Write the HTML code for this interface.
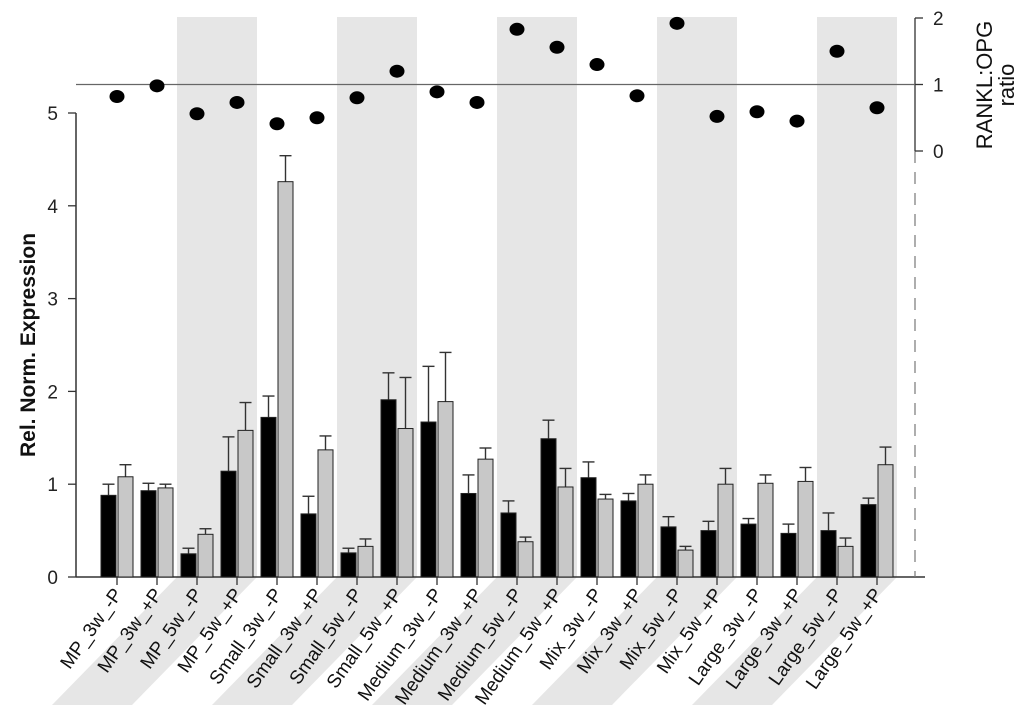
<!DOCTYPE html>
<html><head><meta charset="utf-8"><style>body{margin:0;background:#fff}svg{display:block;font-family:"Liberation Sans",sans-serif}</style></head>
<body>
<svg id="chart" width="1024" height="718" viewBox="0 0 1024 718" xmlns="http://www.w3.org/2000/svg">
<g id="bands"></g><g id="axes"></g><g id="bars"></g><g id="dots"></g><g id="labels"></g>
</svg>
<script>
const categories=["MP_3w_-P","MP_3w_+P","MP_5w_-P","MP_5w_+P","Small_3w_-P","Small_3w_+P","Small_5w_-P","Small_5w_+P","Medium_3w_-P","Medium_3w_+P","Medium_5w_-P","Medium_5w_+P","Mix_3w_-P","Mix_3w_+P","Mix_5w_-P","Mix_5w_+P","Large_3w_-P","Large_3w_+P","Large_5w_-P","Large_5w_+P"];
const rankl=[0.88,0.93,0.25,1.14,1.72,0.68,0.26,1.91,1.67,0.90,0.69,1.49,1.07,0.82,0.54,0.50,0.57,0.47,0.50,0.78];
const ranklErr=[0.12,0.08,0.06,0.37,0.23,0.19,0.05,0.29,0.60,0.20,0.13,0.20,0.17,0.08,0.11,0.10,0.06,0.10,0.19,0.07];
const opg=[1.08,0.96,0.46,1.58,4.26,1.37,0.33,1.60,1.89,1.27,0.38,0.97,0.84,1.00,0.29,1.00,1.01,1.03,0.33,1.21];
const opgErr=[0.13,0.04,0.06,0.30,0.28,0.15,0.08,0.55,0.53,0.12,0.05,0.20,0.05,0.10,0.04,0.17,0.09,0.15,0.09,0.19];
const ratio=[0.82,0.98,0.56,0.73,0.41,0.50,0.80,1.20,0.89,0.73,1.83,1.56,1.30,0.83,1.92,0.52,0.59,0.45,1.50,0.65];
const leftTicks=[0,1,2,3,4,5];
const rightTicks=[0,1,2];
const NS="http://www.w3.org/2000/svg";
const X=i=>117+40*i;
const Y=v=>577-v*92.8;
const R=v=>151-v*66.5;
function mk(parent,tag,attrs){const e=document.createElementNS(NS,tag);for(const k in attrs)e.setAttribute(k,attrs[k]);document.getElementById(parent).appendChild(e);return e;}
for(let b=0;b<5;b++){
  const x0=X(2+4*b)-20;
  let e=mk('bands','rect',{x:x0,y:17,width:80,height:560,fill:'#e6e6e6'});
  
  
  e=mk('bands','polygon',{points:`${x0},577 ${x0+80},577 ${x0-45},705 ${x0-125},705`,fill:'#e6e6e6'});
  
  
}
let a;
a=mk('axes','line',{x1:76,y1:Y(0),x2:76,y2:Y(5),stroke:'#333','stroke-width':1.5});

a=mk('axes','line',{x1:76,y1:577,x2:925,y2:577,stroke:'#333','stroke-width':1.5});

leftTicks.forEach(t=>{
  let e=mk('axes','line',{x1:68,y1:Y(t),x2:76,y2:Y(t),stroke:'#333','stroke-width':1.3});
  
  e=mk('axes','text',{x:58,y:Y(t)+7,'text-anchor':'end','font-size':19,fill:'#222'});e.textContent=t;
  
});
a=mk('axes','line',{x1:915,y1:R(0),x2:915,y2:R(2),stroke:'#333','stroke-width':1.3});

a=mk('axes','line',{x1:915,y1:R(0),x2:915,y2:577,stroke:'#777','stroke-width':1.2,'stroke-dasharray':'12,9'});

rightTicks.forEach(t=>{
  let e=mk('axes','line',{x1:915,y1:R(t),x2:923,y2:R(t),stroke:'#333','stroke-width':1.3});
  
  e=mk('axes','text',{x:933,y:R(t)+7,'font-size':19,fill:'#222'});e.textContent=t;
  
});
a=mk('axes','line',{x1:76,y1:R(1),x2:915,y2:R(1),stroke:'#666','stroke-width':1.3});

a=mk('axes','text',{x:0,y:0,transform:'translate(35,345) rotate(-90)','text-anchor':'middle','font-size':21,'font-weight':'bold',fill:'#111'});a.textContent='Rel. Norm. Expression';

a=mk('axes','text',{x:0,y:0,transform:'translate(992,85) rotate(-90)','text-anchor':'middle','font-size':22,fill:'#111'});a.textContent='RANKL:OPG';

a=mk('axes','text',{x:0,y:0,transform:'translate(1014,85) rotate(-90)','text-anchor':'middle','font-size':22,fill:'#111'});a.textContent='ratio';

categories.forEach((c,i)=>{
  const cx=X(i);
  [[rankl[i],ranklErr[i],cx-16,'#000','rankl'],[opg[i],opgErr[i],cx+1,'#c8c8c8','opg']].forEach(([v,er,x,f,n])=>{
    const top=Y(v+er);
    let e=mk('bars','line',{x1:x+7.5,y1:Y(v),x2:x+7.5,y2:top,stroke:'#333','stroke-width':1.4});
    
    e=mk('bars','line',{x1:x+1.5,y1:top,x2:x+13.5,y2:top,stroke:'#333','stroke-width':1.4});
    
    e=mk('bars','rect',{x:x,y:Y(v),width:15,height:577-Y(v),fill:f,stroke:'#222','stroke-width':1});
    
  });
  let e=mk('axes','line',{x1:cx,y1:577,x2:cx,y2:585,stroke:'#333','stroke-width':1.3});
  
  e=mk('dots','ellipse',{cx:cx,cy:R(ratio[i]),rx:7.5,ry:6.5,fill:'#000'});
  
  e=mk('labels','text',{x:0,y:0,transform:`translate(${cx+6},594) rotate(-55)`,'text-anchor':'end','font-size':19,fill:'#111'});e.textContent=c;
  
});
</script>
</body></html>
